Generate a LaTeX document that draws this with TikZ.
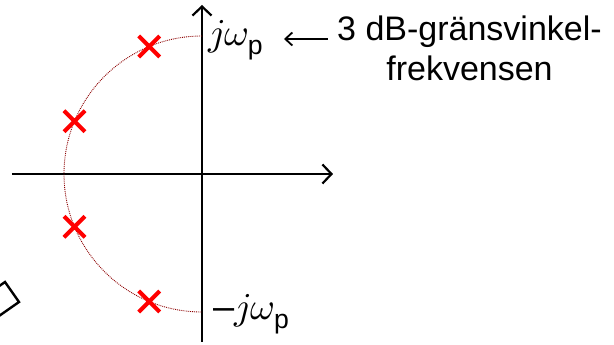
\documentclass[tikz,border=0pt]{standalone}
\usepackage{amsmath}
\usepackage{fontspec}
\usepackage{unicode-math}
\setmainfont{Liberation Sans}
\setmathfont{Latin Modern Math}
\usetikzlibrary{arrows.meta, shapes.misc, positioning, calc}

\begin{document}
\begin{tikzpicture}[
        x=1pt, y=1pt,
        font=\fontsize{34}{40}\selectfont,
        % styles
        axis/.style={line width=2.6pt, -{Straight Barb[length=9pt, width=19pt, line width=2.2pt]}},
        pole/.style={cross out, draw=red, line width=4pt, minimum size=17pt, inner sep=0pt},
        unitcircle/.style={densely dotted, draw=red!55!black, line width=0.9pt},
        label/.style={inner sep=0pt, anchor=west, font=\fontsize{38}{40}\selectfont},
        note/.style={line width=1.9pt, -{Straight Barb[length=7pt, width=13pt, line width=1.8pt]}}
    ]
    \useasboundingbox (-202,-171) rectangle (412,174);

    % --- 1. axes ---
    \coordinate (o) at (0,0);
    \coordinate (re0) at (-190,0);
    \coordinate (re1) at (131,0);
    \coordinate (im0) at (0,-168);
    \coordinate (im1) at (0,169);
    \draw[axis] (re0) -- (re1);
    \draw[axis] (im0) -- (im1);

    % --- 2. circle and poles ---
    \coordinate (wtop) at (90:138);
    \draw[unitcircle] (wtop) arc[start angle=90, end angle=270, radius=138];
    \foreach \a [count=\i] in {112.5, 157.5, 202.5, 247.5}
        \node[pole] (p\i) at (\a:138) {};

    % --- 3. labels ---
    \node[label] (jw) at (6,134) {$j\omega_{\text{p}}$};
    \node[label] (mjw) at (11,-140) {$\text{–}j\omega_{\text{p}}$};
    \node[align=center, inner sep=0pt, anchor=north west] (freq) at (135,158)
        {3 dB-gränsvinkel-\\frekvensen};
    \coordinate (tip) at (82,135);
    \draw[note] (freq.west |- tip) ++(-9,0) -- (tip);

    % --- 4. box at the edge ---
    \draw[line width=2.4pt] (-197,-108) -- (-183,-128) -- (-203,-142) -- (-217,-122) -- cycle;
\end{tikzpicture}
\end{document}
